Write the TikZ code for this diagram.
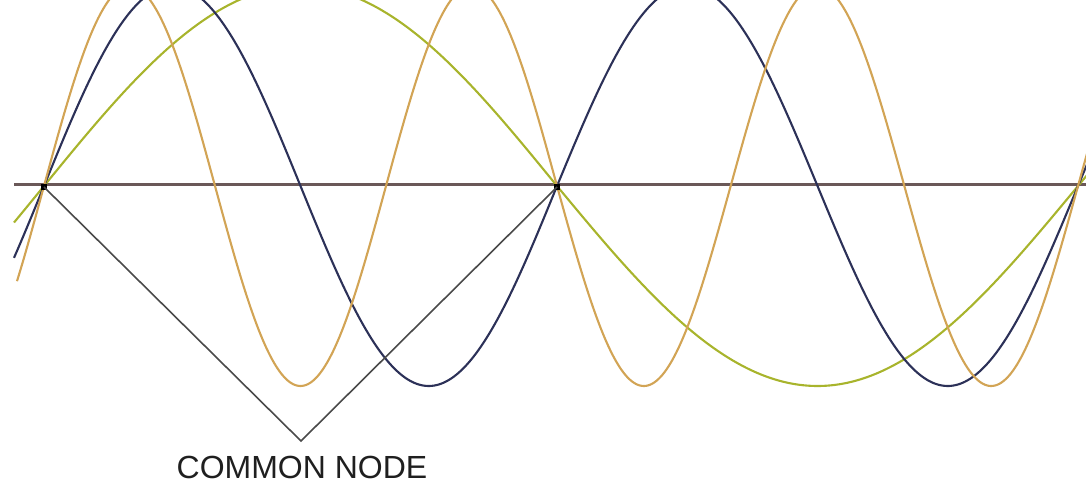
\documentclass[tikz,border=0pt]{standalone}
\usepackage{fontspec}
\setmainfont{Liberation Sans}
\definecolor{wgreen}{HTML}{A8B42C}
\definecolor{wblue}{HTML}{2C3158}
\definecolor{worange}{HTML}{D2A455}
\definecolor{waxis}{HTML}{6A5858}
\definecolor{wconn}{HTML}{4A4A4A}
\tikzset{
  wave/.style={line width=2.1pt},
  axisline/.style={draw=waxis,line width=3pt},
  conn/.style={draw=wconn,line width=1.6pt},
  nodedot/.style={fill=black,inner sep=0pt,minimum size=6pt,rectangle},
  lbl/.style={font=\fontsize{32}{32}\selectfont,text=black!88,inner sep=0pt}
}
\begin{document}
\begin{tikzpicture}[x=1pt,y=-1pt]
\useasboundingbox (0,0) rectangle (1086,486);
\begin{scope}
\clip (0,0) rectangle (1086,486);
\draw[axisline] (14,185) -- (1086,185);
\foreach \n/\c/\s in {1/wgreen/14,2/wblue/14,3/worange/17}{
  \draw[wave,draw=\c] plot[domain=\s:557,samples=300,smooth] (\x,{186-200*sin(\n*((\x-44)/513)*180)});
  \draw[wave,draw=\c] plot[domain=557:1090,samples=300,smooth] (\x,{186-200*sin(\n*(180+((\x-557)/521)*180))});
}
\end{scope}
\node[nodedot] (n1) at (44,187) {};
\node[nodedot] (n2) at (557,187) {};
\coordinate (apex) at (301,441);
\draw[conn] (n1.center) -- (apex) -- (n2.center);
\node[lbl,anchor=base] (label) at (302,478) {COMMON NODE};
\end{tikzpicture}
\end{document}
